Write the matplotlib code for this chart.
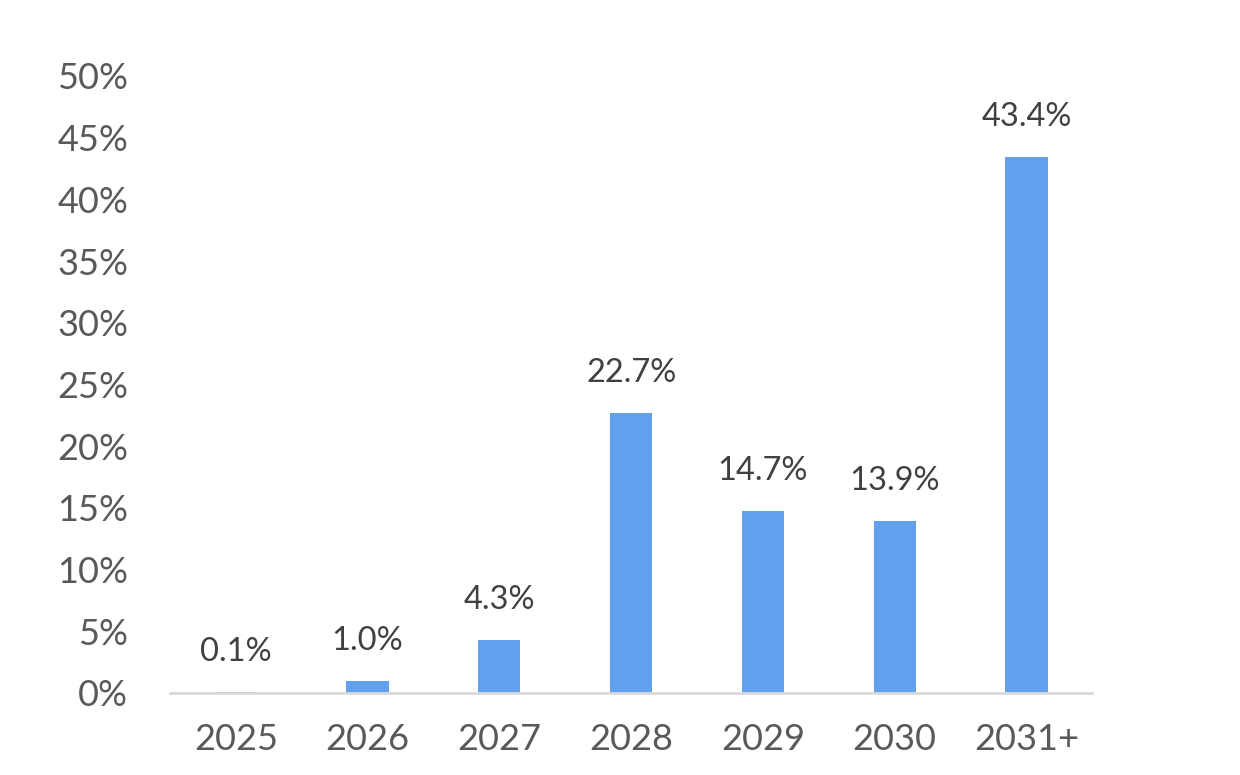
import matplotlib
matplotlib.use("Agg")
import matplotlib.pyplot as plt
from matplotlib.ticker import FuncFormatter

categories = ["2025", "2026", "2027", "2028", "2029", "2030", "2031+"]
values = [0.1, 1.0, 4.3, 22.7, 14.7, 13.9, 43.4]
labels = ["0.1%", "1.0%", "4.3%", "22.7%", "14.7%", "13.9%", "43.4%"]
yticks = [0, 5, 10, 15, 20, 25, 30, 35, 40, 45, 50]

plt.rcParams['font.family'] = ['Lato', 'DejaVu Sans']

fig = plt.figure(figsize=(12.4, 7.75), dpi=100)
ax = fig.add_axes([0.137, 0.106, 0.744, 0.796])

x = list(range(len(categories)))
bars = ax.bar(x, values, width=0.32, color="#60A0EE", zorder=2)

for xi, v, lab in zip(x, values, labels):
    ax.annotate(lab, (xi, v), xytext=(0, 18), textcoords="offset points",
                ha="center", va="bottom", fontsize=23.5, color="#404040")

ax.set_xlim(-0.5, len(categories) - 0.5)
ax.set_ylim(0, 50)
ax.set_yticks(yticks)
ax.yaxis.set_major_formatter(FuncFormatter(lambda v, p: f"{int(v)}%"))
ax.set_xticks(x)
ax.set_xticklabels(categories)

for s in ["top", "right", "left"]:
    ax.spines[s].set_visible(False)
ax.spines["bottom"].set_color("#D9D9D9")
ax.spines["bottom"].set_linewidth(2)

ax.tick_params(axis="y", length=0, pad=30, labelsize=26, labelcolor="#595959")
ax.tick_params(axis="x", length=0, pad=22, labelsize=26, labelcolor="#595959")

fig.savefig("out.png", dpi=100, facecolor="white")
